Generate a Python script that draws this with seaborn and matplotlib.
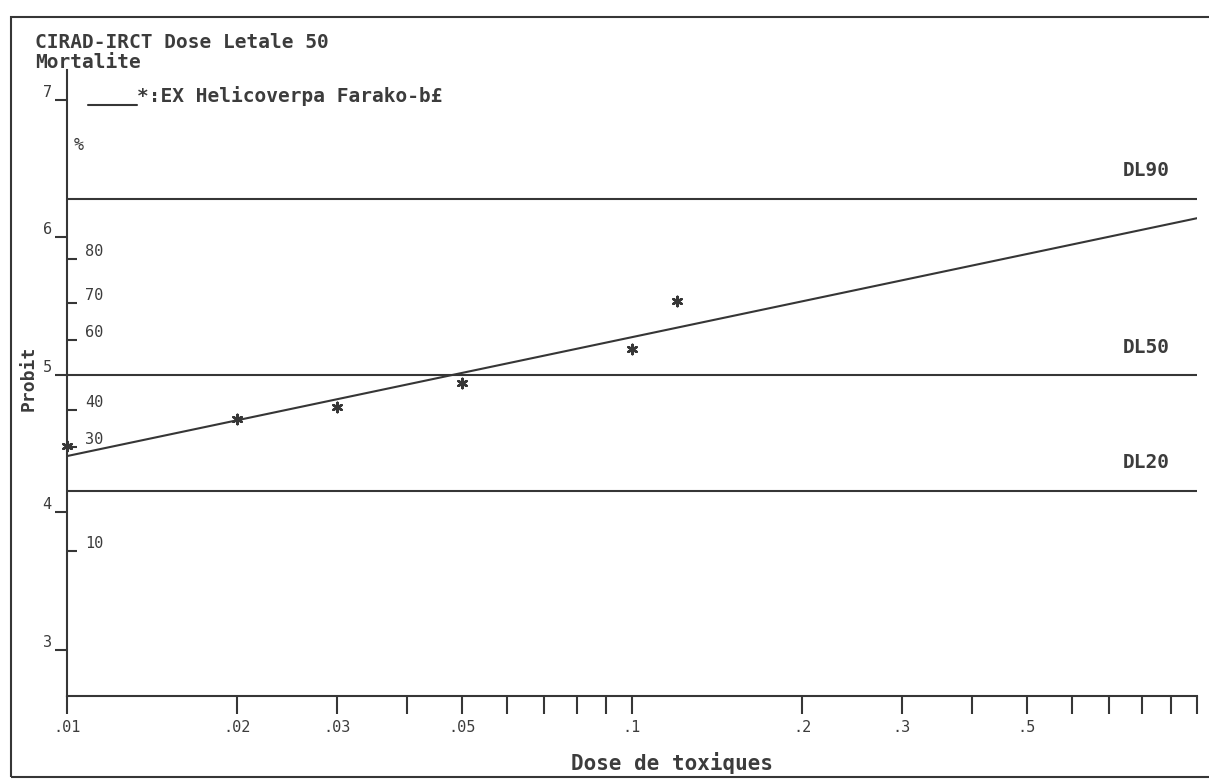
import matplotlib
matplotlib.use("Agg")
import matplotlib.pyplot as plt
import matplotlib.lines as mlines
import matplotlib.patches as mpatches
from matplotlib.ticker import NullLocator
import seaborn as sns
from statistics import NormalDist

# Données (dose, probit)
doses = [0.01, 0.02, 0.03, 0.05, 0.10, 0.12]
probits = [4.48, 4.68, 4.77, 4.94, 5.19, 5.54]

# Droite d'ajustement (extrémités)
fit_doses = [0.01, 1.0]
fit_probits = [4.41, 6.14]

# Doses létales
dl_pct = [90, 50, 20]
dl_labels = ["DL90", "DL50", "DL20"]

# Graduations
probit_ticks = [3, 4, 5, 6, 7]
pct_ticks = [10, 30, 40, 60, 70, 80]
x_ticks = [0.01, 0.02, 0.03, 0.04, 0.05, 0.06, 0.07, 0.08, 0.09,
           0.1, 0.2, 0.3, 0.4, 0.5, 0.6, 0.7, 0.8, 0.9, 1.0]
x_labels = [".01", ".02", ".03", "", ".05", "", "", "", "",
            ".1", ".2", ".3", "", ".5", "", "", "", "", ""]

LINE = "#363636"
TEXT = "#3c3c3c"


def probit(p):
    return 5 + NormalDist().inv_cdf(p / 100)


sns.set_theme(style="white")
plt.rcParams["font.family"] = ["DejaVu Sans Mono", "DejaVu Sans"]

W, H = 1209, 780
fig = plt.figure(figsize=(W / 100, H / 100), dpi=100)
fig.patch.set_facecolor("white")
ax = fig.add_axes([67 / W, 1 - 696 / H, 1130 / W, 626 / H])
ax.set_xscale("log")
ax.set_xlim(0.01, 1.0)
ax.set_ylim(2.665, 7.218)

# Lignes DL
for p, lab in zip(dl_pct, dl_labels):
    ax.axhline(probit(p), color=LINE, lw=1.5)
    ax.annotate(lab, xy=(0.976, probit(p)), xycoords=ax.get_yaxis_transform(),
                xytext=(0, 20), textcoords="offset points", weight="bold",
                ha="right", va="center", fontsize=14, color=TEXT)

# Droite ajustée + points observés
sns.lineplot(x=fit_doses, y=fit_probits, ax=ax, color=LINE, lw=1.5)
sns.scatterplot(x=doses, y=probits, ax=ax, marker=(6, 2, 0), s=45,
                color=LINE, edgecolor=LINE, linewidth=1.8, clip_on=False)

# Axes
for s in ["top", "right"]:
    ax.spines[s].set_visible(False)
for s in ["left", "bottom"]:
    ax.spines[s].set_color(LINE)
    ax.spines[s].set_linewidth(1.5)

ax.xaxis.set_minor_locator(NullLocator())
ax.set_xticks(x_ticks, labels=x_labels)
ax.tick_params(axis="x", direction="out", length=13, width=1.5, pad=4,
               labelsize=11, color=LINE, labelcolor=TEXT, bottom=True)

ax.set_yticks(probit_ticks, labels=[str(t) for t in probit_ticks])
ax.tick_params(axis="y", direction="out", length=9, width=1.5, pad=2,
               labelsize=11, color=LINE, labelcolor=TEXT, left=True)
for lab in ax.get_yticklabels():
    lab.set_verticalalignment("bottom")

# Echelle des pourcentages (intérieur de l'axe)
ax2 = ax.twinx()
ax2.set_ylim(ax.get_ylim())
ax2.spines["right"].set_position(("axes", 0))
for s in ax2.spines.values():
    s.set_visible(False)
ax2.set_yticks([probit(p) for p in pct_ticks], labels=[str(p) for p in pct_ticks])
ax2.tick_params(axis="y", direction="out", length=7, width=1.5, pad=6,
                labelsize=11, color=LINE, labelcolor=TEXT, right=True)
for lab in ax2.get_yticklabels():
    lab.set_verticalalignment("bottom")

ax.set_xlabel("Dose de toxiques", fontsize=15, color=TEXT, weight="bold")
ax.xaxis.set_label_coords(0.535, -0.089)
ax.set_ylabel("Probit", fontsize=13, color=TEXT, weight="bold")
ax.yaxis.set_label_coords(-0.026, 0.508)

# Textes d'en-tête
fig.text(35 / W, 1 - 42 / H, "CIRAD-IRCT Dose Letale 50", fontsize=14,
         color=TEXT, va="center", weight="bold")
fig.text(35 / W, 1 - 63 / H, "Mortalite", fontsize=14, color=TEXT,
         va="center", weight="bold")
fig.add_artist(mlines.Line2D([88 / W, 137 / W], [1 - 105 / H, 1 - 105 / H],
                             color=LINE, lw=1.5))
fig.text(137 / W, 1 - 96 / H, "*:EX Helicoverpa Farako-b£", fontsize=14,
         color=TEXT, va="center", weight="bold")
fig.text(74 / W, 1 - 145 / H, "%", fontsize=12, color=TEXT, va="center")

# Cadre
fig.add_artist(mpatches.Rectangle((11 / W, 3 / H), 1.5, 760 / H, fill=False,
                                  edgecolor=LINE, lw=1.5))

fig.savefig("out.png", dpi=100)
